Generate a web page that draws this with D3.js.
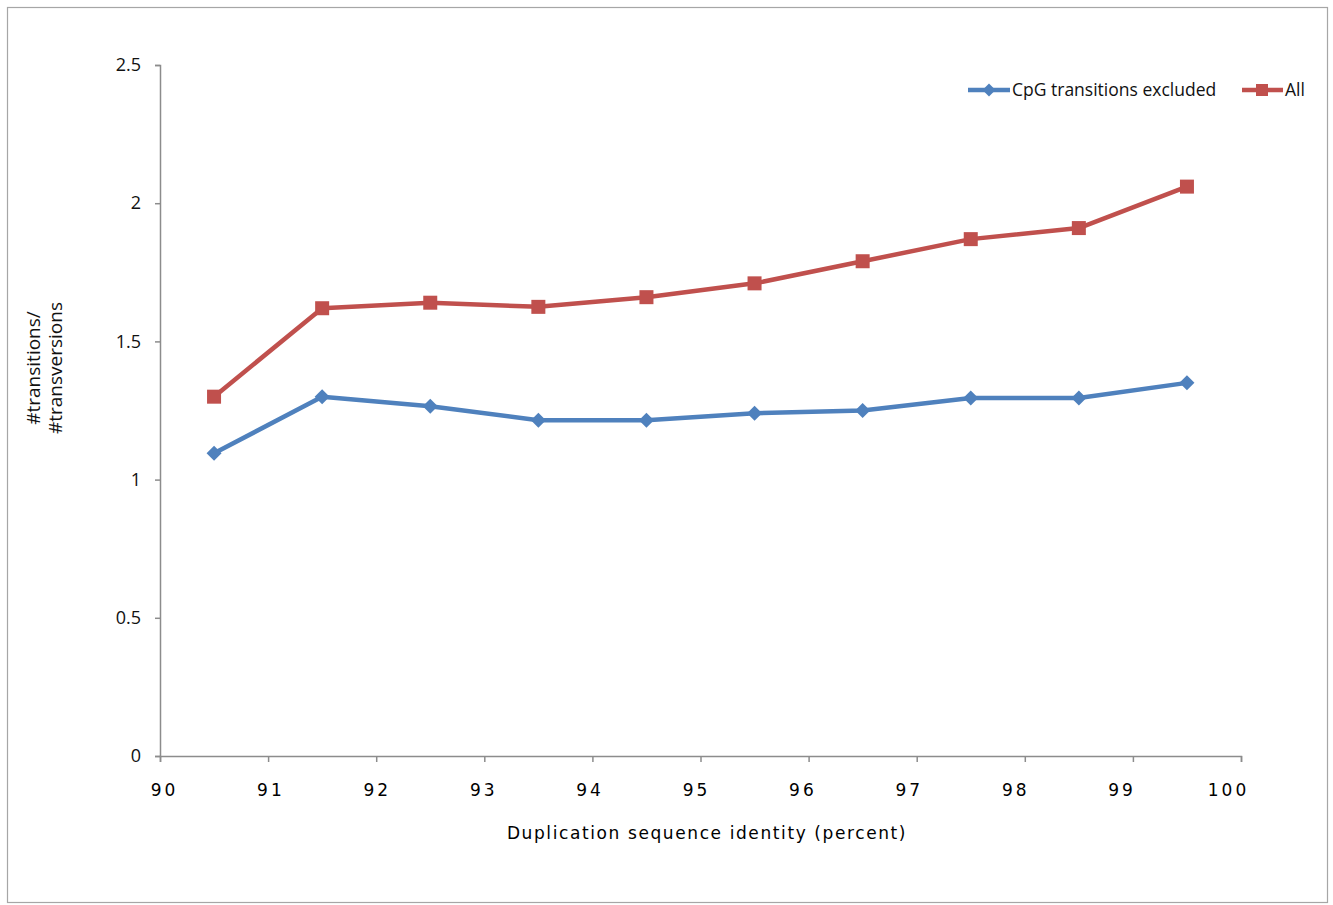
<!DOCTYPE html>
<html><head><meta charset="utf-8">
<script src="https://cdn.jsdelivr.net/npm/d3@7"></script>
<style>body{margin:0;background:#fff}svg{display:block}</style>
</head><body>
<script>
const xValues = [90.5, 91.5, 92.5, 93.5, 94.5, 95.5, 96.5, 97.5, 98.5, 99.5];
const cpgExcluded = [1.095, 1.30, 1.265, 1.215, 1.215, 1.24, 1.25, 1.295, 1.295, 1.35];
const allValues = [1.30, 1.62, 1.64, 1.625, 1.66, 1.71, 1.79, 1.87, 1.91, 2.06];
const xTicks = [90, 91, 92, 93, 94, 95, 96, 97, 98, 99, 100];
const yTicks = [0, 0.5, 1, 1.5, 2, 2.5];
const seriesNames = ["CpG transitions excluded", "All"];
const xTitle = "Duplication sequence identity (percent)";
const yTitleLines = ["#transitions/", "#transversions"];

const W = 1333, H = 905;
const svg = d3.select("body").append("svg").attr("width", W).attr("height", H);
svg.append("rect").attr("x", 7.5).attr("y", 7.5).attr("width", 1320).attr("height", 895)
  .attr("fill", "#fff").attr("stroke", "#a6a6a6").attr("stroke-width", 1.2);

const x = d3.scaleLinear().domain([90, 100]).range([160, 1241]);
const y = d3.scaleLinear().domain([0, 2.5]).range([756, 65]);
const axisColor = "#8c8c8c";

// Y axis
const gy = svg.append("g").attr("transform", "translate(160,0)")
  .call(d3.axisLeft(y).tickValues(yTicks).tickSize(5).tickPadding(14).tickFormat(d3.format("")));
gy.select(".domain").attr("stroke", axisColor).attr("stroke-width", 1.5);
gy.selectAll(".tick line").attr("stroke", axisColor).attr("stroke-width", 1.5);
gy.selectAll(".tick text").attr("font-family", "'Open Sans', sans-serif").attr("font-size", 18).attr("fill", "#111");

// X axis
const gx = svg.append("g").attr("transform", "translate(0,756)")
  .call(d3.axisBottom(x).tickValues(xTicks).tickSize(6).tickPadding(22).tickFormat(d3.format("d")));
gx.select(".domain").attr("stroke", axisColor).attr("stroke-width", 1.5);
gx.selectAll(".tick line").attr("stroke", axisColor).attr("stroke-width", 1.5);
gx.selectAll(".tick text").attr("font-family", "'DejaVu Sans', sans-serif").attr("font-size", 17)
  .attr("letter-spacing", 3).attr("fill", "#000")
  .attr("dx", d => 4 - 1.7 * (d - 90));

// Titles
svg.append("text").attr("x", 707).attr("y", 839).attr("text-anchor", "middle")
  .attr("font-family", "'DejaVu Sans', sans-serif").attr("font-size", 17)
  .attr("letter-spacing", 1.6).attr("fill", "#000").text(xTitle);

yTitleLines.forEach((t, i) => {
  svg.append("text").attr("transform", `translate(${40 + i * 22},368) rotate(-90)`)
    .attr("text-anchor", "middle").attr("font-family", "'Open Sans', sans-serif")
    .attr("font-size", 19).attr("fill", "#111").text(t);
});

// Lines
const colors = ["#4f81bd", "#c0504d"];
const data = [cpgExcluded, allValues];
const line = d3.line().x((d, i) => x(xValues[i])).y(d => y(d));
data.forEach((vals, k) => {
  svg.append("path").datum(vals).attr("d", line).attr("fill", "none")
    .attr("stroke", colors[k]).attr("stroke-width", 4.5).attr("stroke-linejoin", "round");
});
// markers
const diamond = (cx, cy, s) => `M${cx},${cy - s}L${cx + s},${cy}L${cx},${cy + s}L${cx - s},${cy}Z`;
svg.selectAll(".dia").data(cpgExcluded).enter().append("path")
  .attr("d", (d, i) => diamond(x(xValues[i]), y(d), 7.5)).attr("fill", colors[0]);
svg.selectAll(".sq").data(allValues).enter().append("rect")
  .attr("x", (d, i) => x(xValues[i]) - 7).attr("y", d => y(d) - 7)
  .attr("width", 14).attr("height", 14).attr("fill", colors[1]);

// Legend
const lg = svg.append("g");
lg.append("line").attr("x1", 968).attr("x2", 1010).attr("y1", 90).attr("y2", 90)
  .attr("stroke", colors[0]).attr("stroke-width", 4.5);
lg.append("path").attr("d", diamond(989, 90, 6.5)).attr("fill", colors[0]);
lg.append("text").attr("x", 1012).attr("y", 96).attr("font-family", "'Open Sans', sans-serif")
  .attr("font-size", 17.5).attr("fill", "#111").text(seriesNames[0]);
lg.append("line").attr("x1", 1242).attr("x2", 1283).attr("y1", 90).attr("y2", 90)
  .attr("stroke", colors[1]).attr("stroke-width", 4.5);
lg.append("rect").attr("x", 1256).attr("y", 84).attr("width", 12).attr("height", 12).attr("fill", colors[1]);
lg.append("text").attr("x", 1285).attr("y", 96).attr("font-family", "'Open Sans', sans-serif")
  .attr("font-size", 17.5).attr("fill", "#111").text(seriesNames[1]);
</script>
</body></html>
